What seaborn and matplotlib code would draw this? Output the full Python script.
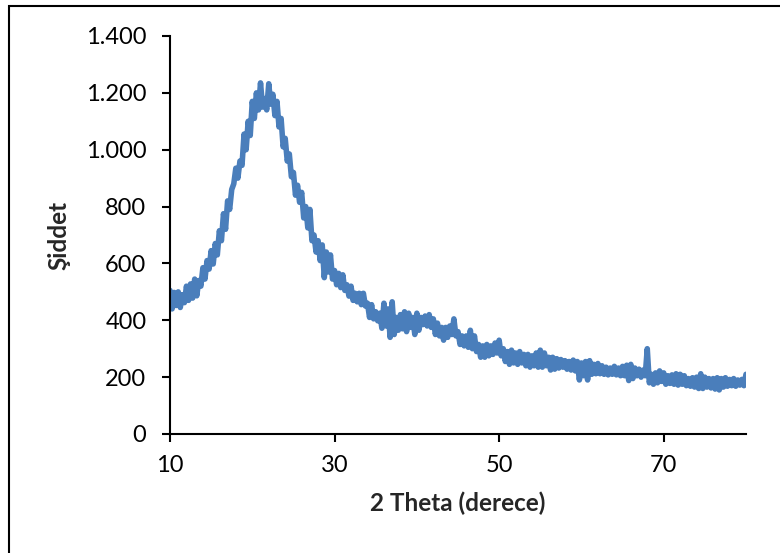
import matplotlib
matplotlib.use('Agg')
import matplotlib.pyplot as plt
from matplotlib.patches import Rectangle
from matplotlib.ticker import FuncFormatter
import seaborn as sns
import numpy as np

# XRD scan, 0.25 degree steps from 10 to 80
intensity = [
    505, 440, 498, 452, 500, 445, 490, 462, 520, 470, 528, 478, 545, 486, 540, 520, 585, 545, 610, 580,
    645, 598, 670, 630, 715, 680, 775, 720, 820, 790, 860, 880, 935, 900, 960, 945, 1055, 1000, 1100, 1050,
    1170, 1110, 1200, 1140, 1235, 1150, 1180, 1140, 1232, 1160, 1195, 1120, 1170, 1080, 1110, 1010, 1040, 960, 985, 905,
    920, 840, 875, 815, 850, 760, 800, 725, 790, 680, 700, 640, 680, 610, 665, 550, 640, 570, 630, 545,
    575, 525, 565, 515, 560, 505, 525, 485, 520, 470, 495, 465, 495, 455, 495, 450, 460, 410, 455, 405,
    430, 398, 425, 372, 460, 380, 440, 340, 465, 350, 410, 365, 420, 370, 430, 360, 425, 375, 410, 350,
    425, 365, 410, 385, 415, 380, 420, 375, 405, 350, 390, 345, 375, 330, 375, 340, 380, 350, 405, 345,
    360, 315, 345, 310, 345, 305, 365, 300, 345, 290, 315, 270, 310, 270, 315, 275, 310, 280, 320, 285,
    330, 275, 300, 255, 290, 245, 295, 250, 285, 245, 290, 250, 280, 240, 280, 235, 275, 240, 285, 235,
    295, 235, 285, 240, 270, 225, 270, 228, 265, 232, 262, 235, 258, 228, 255, 225, 260, 222, 255, 190,
    250, 205, 255, 190, 258, 210, 245, 212, 248, 212, 240, 210, 235, 208, 232, 210, 238, 208, 232, 205,
    238, 205, 242, 188, 245, 195, 232, 205, 228, 200, 225, 205, 300, 180, 210, 175, 215, 180, 222, 185,
    215, 175, 205, 178, 208, 175, 212, 172, 210, 175, 205, 170, 195, 168, 198, 165, 200, 160, 212, 160,
    200, 165, 195, 162, 195, 158, 198, 155, 195, 165, 198, 168, 192, 170, 195, 168, 190, 172, 192, 170,
    210,
]
two_theta = np.linspace(10, 80, len(intensity))

x_ticks = [10, 30, 50, 70]
y_ticks = [0, 200, 400, 600, 800, 1000, 1200, 1400]
x_label = '2 Theta (derece)'
y_label = 'Şiddet'

sns.set_style('ticks')
plt.rcParams['font.family'] = ['Lato', 'DejaVu Sans']

fig = plt.figure(figsize=(7.8, 5.53), dpi=100)
ax = fig.add_axes([170/780, 119/553, 576/780, 398/553])

sns.lineplot(x=two_theta, y=intensity, ax=ax, color='#4A7EBB', linewidth=4,
             estimator=None, sort=False)
for ln in ax.get_lines():
    ln.set_solid_joinstyle('round')
    ln.set_solid_capstyle('round')

ax.set_xlim(10, 80)
ax.set_ylim(0, 1400)
ax.set_xticks(x_ticks)
ax.set_yticks(y_ticks)
ax.yaxis.set_major_formatter(FuncFormatter(lambda v, p: f'{v:,.0f}'.replace(',', '.')))

sns.despine(ax=ax)
for s in ['left', 'bottom']:
    ax.spines[s].set_linewidth(1.5)
    ax.spines[s].set_color('black')
ax.tick_params(axis='both', direction='out', length=6, width=1.5, colors='black',
               labelsize=17)
ax.tick_params(axis='y', pad=11)
ax.tick_params(axis='x', pad=9)

ax.set_xlabel(x_label, fontsize=17.5, fontweight='bold', labelpad=11)
ax.set_ylabel(y_label, fontsize=17.5, fontweight='bold', labelpad=11)

# chart area border (cut off at the right and bottom in the original)
fig.patches.append(Rectangle((9/780, -0.1), 2, 1.1 - 6/553, transform=fig.transFigure,
                             fill=False, ec='black', lw=1.5))

fig.savefig('out.png', dpi=100)
